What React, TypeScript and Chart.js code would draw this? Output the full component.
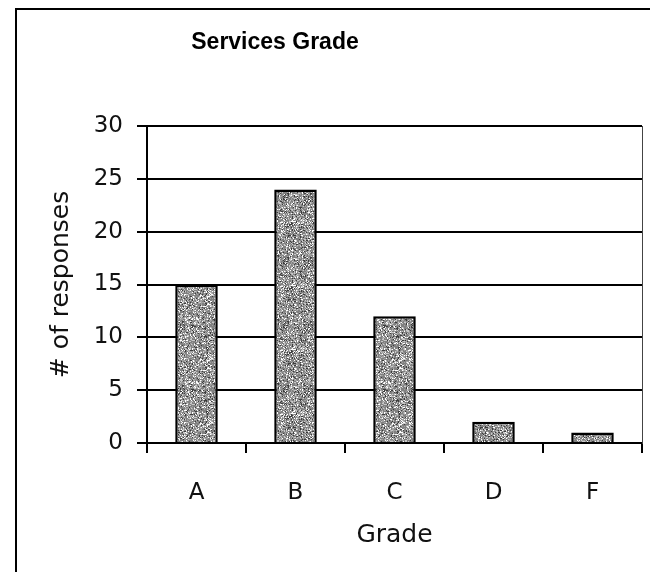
import React, { useEffect, useRef } from "react";
import { Chart, registerables } from "chart.js";

Chart.register(...registerables);

const chartTitle = "Services Grade";
const categories = ["A", "B", "C", "D", "F"];
const responses = [15, 24, 12, 2, 1];
const yMin = 0;
const yMax = 30;
const yStep = 5;
const xTitle = "Grade";
const yTitle = "# of responses";

function hash(x: number, y: number): number {
  let h = (x * 374761393 + y * 668265263) | 0;
  h = (h ^ (h >>> 13)) * 1274126177;
  h = h ^ (h >>> 16);
  return Math.abs(h) % 100;
}

function makePattern(): CanvasPattern | string {
  const size = 64;
  const c = document.createElement("canvas");
  c.width = size;
  c.height = size;
  const g = c.getContext("2d");
  if (!g) return "#9a9a9a";
  const img = g.createImageData(size, size);
  for (let y = 0; y < size; y++) {
    for (let x = 0; x < size; x++) {
      const h = hash(x, y);
      let v = 150;
      if (h < 42) v = 128;
      else if (h < 62) v = 160;
      else if (h < 78) v = 200;
      else if (h < 89) v = 255;
      else v = 60;
      const i = (y * size + x) * 4;
      img.data[i] = v;
      img.data[i + 1] = v;
      img.data[i + 2] = v;
      img.data[i + 3] = 255;
    }
  }
  g.putImageData(img, 0, 0);
  return g.createPattern(c, "repeat") || "#9a9a9a";
}

const titlePlugin = {
  id: "customTitle",
  afterDraw(chart: any) {
    const ctx = chart.ctx;
    ctx.save();
    ctx.font = 'bold 23px "Liberation Sans", Arial, sans-serif';
    ctx.fillStyle = "#000";
    ctx.textAlign = "center";
    ctx.textBaseline = "middle";
    ctx.fillText(chartTitle, 275, 43);
    ctx.restore();
  },
};

export default function App() {
  const ref = useRef<HTMLCanvasElement | null>(null);

  useEffect(() => {
    if (!ref.current) return;
    const pattern = makePattern();
    const chart = new Chart(ref.current, {
      type: "bar",
      data: {
        labels: categories,
        datasets: [
          {
            label: yTitle,
            data: responses,
            backgroundColor: pattern as any,
            borderColor: "#000",
            borderWidth: 2.5,
            barPercentage: 0.43,
            categoryPercentage: 1,
          },
        ],
      },
      options: {
        animation: false,
        responsive: false,
        maintainAspectRatio: false,
        layout: { padding: { left: 18, top: 126, right: 8, bottom: 0 } },
        plugins: {
          legend: { display: false },
          title: { display: false },
          tooltip: { enabled: false },
        },
        scales: {
          x: {
            offset: true,
            grid: {
              offset: true,
              drawOnChartArea: false,
              drawTicks: true,
              tickLength: 10,
              color: "#000",
              lineWidth: 2,
            },
            border: { display: true, color: "#000", width: 2 },
            ticks: {
              color: "#111",
              padding: 26,
              font: { family: '"DejaVu Sans", sans-serif', size: 23 },
            },
            title: {
              display: true,
              text: xTitle,
              color: "#111",
              font: { family: '"DejaVu Sans", sans-serif', size: 25 },
              padding: { top: 0, bottom: 22 },
            },
            afterFit(scale: any) {
              scale.height = 129;
            },
          },
          y: {
            min: yMin,
            max: yMax,
            grid: {
              color: "#000",
              lineWidth: 2,
              drawTicks: true,
              tickLength: 10,
            },
            border: { display: true, color: "#000", width: 2 },
            ticks: {
              stepSize: yStep,
              color: "#111",
              padding: 14,
              font: { family: '"DejaVu Sans", sans-serif', size: 23 },
            },
            title: {
              display: true,
              text: yTitle,
              color: "#111",
              font: { family: '"DejaVu Sans", sans-serif', size: 25 },
              padding: { top: 28, bottom: 0 },
            },
            afterFit(scale: any) {
              scale.width = 129;
            },
          },
          y2: {
            position: "right",
            min: yMin,
            max: yMax,
            grid: { drawOnChartArea: false, drawTicks: false },
            border: { display: true, color: "#444", width: 1 },
            ticks: { display: false },
            afterFit(scale: any) {
              scale.width = 0;
            },
          },
        },
      },
      plugins: [titlePlugin],
    });
    return () => chart.destroy();
  }, []);

  return (
    <div
      style={{
        position: "fixed",
        left: 0,
        top: 0,
        width: 650,
        height: 572,
        background: "#fff",
        overflow: "hidden",
      }}
    >
      <canvas
        ref={ref}
        width={650}
        height={572}
        style={{ position: "absolute", left: 0, top: 0, width: 650, height: 572 }}
      />
      <div
        style={{
          position: "absolute",
          left: 15,
          top: 8,
          width: 700,
          height: 700,
          borderLeft: "2px solid #000",
          borderTop: "2px solid #000",
          pointerEvents: "none",
        }}
      />
    </div>
  );
}
